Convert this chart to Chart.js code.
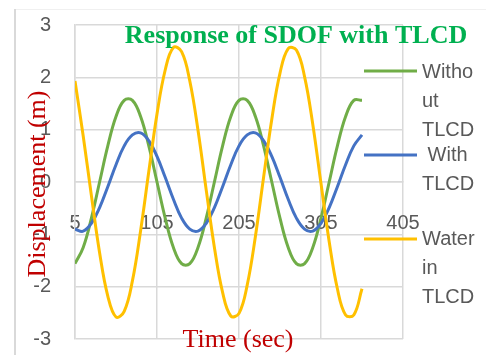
<!DOCTYPE html>
<html lang="en">

<head>
    <meta charset="UTF-8">
    <title>Response of SDOF with TLCD</title>
    <script src="https://cdn.jsdelivr.net/npm/chart.js"></script>
    <style>
        body { margin: 0; background: #ffffff; }
        #box { width: 486px; height: 355px; }
    </style>
</head>

<body>
    <div id="box">
        <canvas id="myChart" width="486" height="355"></canvas>
    </div>
</body>
<script>

    // time (sec)
    const tempo = [5, 15, 25, 35, 45, 55, 65, 75, 85, 95, 105, 115, 125, 135, 145, 155, 165, 175,
        185, 195, 205, 215, 225, 235, 245, 255, 265, 275, 285, 295, 305, 315, 325, 335, 345, 355];

    // displacement (m)
    const semTLCD = [-1.56, -1.25, -0.69, 0, 0.69, 1.25, 1.56, 1.56, 1.25, 0.69, 0, -0.69, -1.25, -1.56,
        -1.56, -1.25, -0.69, 0, 0.69, 1.25, 1.56, 1.56, 1.25, 0.69, 0, -0.69, -1.25, -1.56,
        -1.56, -1.25, -0.69, 0, 0.69, 1.25, 1.56, 1.56];
    const comTLCD = [-0.90, -0.94, -0.79, -0.49, -0.09, 0.33, 0.69, 0.90, 0.94, 0.79, 0.49, 0.09, -0.33, -0.69,
        -0.90, -0.94, -0.79, -0.49, -0.09, 0.33, 0.69, 0.90, 0.94, 0.79, 0.49, 0.09, -0.33, -0.69,
        -0.90, -0.94, -0.79, -0.49, -0.09, 0.33, 0.69, 0.90];
    const aguaTLCD = [1.93, 0.88, -0.26, -1.35, -2.18, -2.58, -2.47, -1.89, -0.93, 0.20, 1.30, 2.14, 2.57, 2.49,
        1.93, 0.99, -0.15, -1.25, -2.11, -2.56, -2.51, -1.97, -1.04, 0.09, 1.20, 2.08, 2.55, 2.52,
        2.01, 1.10, -0.03, -1.14, -2.04, -2.54, -2.54, -2.04];

    const xTicks = [5, 105, 205, 305, 405];
    const yTicks = [-3, -2, -1, 0, 1, 2, 3];

    const legendas = [
        { label: 'Without TLCD', linhas: ['Witho', 'ut', 'TLCD'], cor: '#70AD47', yLinha: 71, yTexto: [72, 101, 130] },
        { label: 'With TLCD', linhas: [' With', 'TLCD'], cor: '#4472C4', yLinha: 155, yTexto: [155, 184] },
        { label: 'Water in TLCD', linhas: ['Water', 'in', 'TLCD'], cor: '#FFC000', yLinha: 239, yTexto: [239, 268, 297] }
    ];

    function pontos(valores) {
        return tempo.map((t, i) => ({ x: t, y: valores[i] }));
    }

    const cinza = '#d9d9d9';
    const textoCinza = '#595959';

    // frame, title, axis titles and the wrapped legend
    const extras = {
        id: 'extras',
        beforeDraw(chart) {
            const ctx = chart.ctx;
            ctx.save();
            ctx.strokeStyle = '#f0f0f0';
            ctx.lineWidth = 1;
            ctx.beginPath();
            ctx.moveTo(15, 9.5);
            ctx.lineTo(486, 9.5);
            ctx.stroke();
            ctx.strokeStyle = cinza;
            ctx.lineWidth = 2;
            ctx.beginPath();
            ctx.moveTo(15, 9);
            ctx.lineTo(15, 355);
            ctx.stroke();
            ctx.restore();
        },
        afterDraw(chart) {
            const ctx = chart.ctx;
            ctx.save();

            ctx.fillStyle = '#00B050';
            ctx.font = 'bold 26px "Liberation Serif"';
            ctx.textAlign = 'center';
            ctx.textBaseline = 'alphabetic';
            ctx.fillText('Response of SDOF with TLCD', 296, 43);

            ctx.fillStyle = '#C00000';
            ctx.font = '26px "Liberation Serif"';
            ctx.fillText('Time (sec)', 238, 347);

            ctx.save();
            ctx.translate(45, 184);
            ctx.rotate(-Math.PI / 2);
            ctx.fillText('Displacement (m)', 0, 0);
            ctx.restore();

            ctx.font = '20px "Liberation Sans"';
            ctx.textAlign = 'left';
            ctx.textBaseline = 'middle';
            ctx.lineWidth = 3;
            legendas.forEach(item => {
                ctx.strokeStyle = item.cor;
                ctx.beginPath();
                ctx.moveTo(364, item.yLinha);
                ctx.lineTo(417, item.yLinha);
                ctx.stroke();
                ctx.fillStyle = textoCinza;
                item.linhas.forEach((txt, i) => ctx.fillText(txt, 422, item.yTexto[i]));
            });

            ctx.restore();
        }
    };

    const data = {
        datasets: [
            { label: legendas[0].label, data: pontos(semTLCD), borderColor: legendas[0].cor, order: 3 },
            { label: legendas[1].label, data: pontos(comTLCD), borderColor: legendas[1].cor, order: 2 },
            { label: legendas[2].label, data: pontos(aguaTLCD), borderColor: legendas[2].cor, order: 1 }
        ]
    };

    const config = {
        type: 'line',
        data: data,
        options: {
            responsive: false,
            devicePixelRatio: 1,
            animation: false,
            layout: { padding: { left: 0, top: 25, right: 83, bottom: 16 } },
            elements: {
                line: { borderWidth: 3, tension: 0.4, fill: false },
                point: { radius: 0, hoverRadius: 0 }
            },
            plugins: {
                legend: { display: false },
                title: { display: false },
                tooltip: { enabled: false }
            },
            scales: {
                x: {
                    type: 'linear',
                    position: { y: 0 },
                    min: 5,
                    max: 405,
                    afterBuildTicks: scale => { scale.ticks = xTicks.map(v => ({ value: v })); },
                    afterFit: scale => { scale.height = 0; },
                    grid: { color: cinza, lineWidth: 1.5, drawTicks: false },
                    border: { color: cinza, width: 1.5 },
                    ticks: {
                        padding: 29,
                        color: textoCinza,
                        font: { family: 'Liberation Sans', size: 20 },
                        maxRotation: 0,
                        autoSkip: false
                    }
                },
                y: {
                    min: -3,
                    max: 3,
                    afterBuildTicks: scale => { scale.ticks = yTicks.map(v => ({ value: v })); },
                    afterFit: scale => {
                        scale.width = 75;
                        // the label gap is horizontal only, keep it out of the top/bottom room
                        scale.paddingTop = 12;
                        scale.paddingBottom = 12;
                    },
                    grid: { color: cinza, lineWidth: 1.5, drawTicks: false },
                    border: { color: cinza, width: 1.5 },
                    ticks: {
                        padding: 24,
                        color: textoCinza,
                        font: { family: 'Liberation Sans', size: 20 }
                    }
                }
            }
        },
        plugins: [extras]
    };

    var grafico = new Chart('myChart', config);

</script>
</html>
